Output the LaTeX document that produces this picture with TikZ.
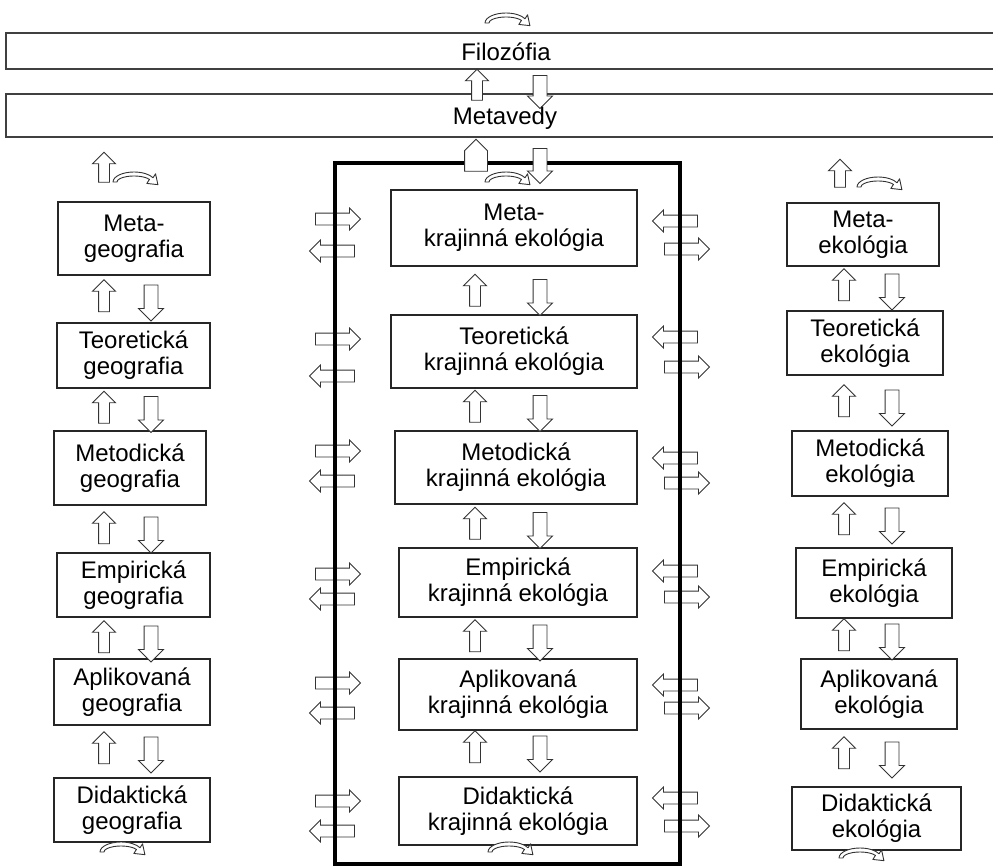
\documentclass[tikz,border=0pt]{standalone}
\usepackage{fontspec}
\setmainfont{Liberation Sans}
\usetikzlibrary{shapes.arrows}
\newcommand\boxfont{\fontsize{24}{26}\selectfont}
\begin{document}
\begin{tikzpicture}[x=1pt,y=-1pt,
  box/.style={draw=black!85, line width=1.3pt, align=center, inner sep=0pt, font=\boxfont},
  bar/.style={draw=black!75, line width=1.3pt, inner sep=0pt},
  lbl/.style={inner sep=0pt, font=\boxfont},
  blk/.style={single arrow, draw=black!80, fill=white, line width=0.9pt, inner xsep=0pt, single arrow tip angle=90},
  ua/.style={blk, rotate=90, inner ysep=5pt, single arrow head extend=6pt, minimum height=#1},
  ua/.default=32pt,
  da/.style={blk, rotate=-90, inner ysep=6.5pt, single arrow head extend=5.5pt, minimum height=#1},
  da/.default=36pt,
  ha/.style={blk, inner ysep=5.5pt, single arrow head extend=5pt, minimum height=45pt},
  cshape/.style={draw=black!80, fill=white, line width=0.9pt, line join=round},
  carc/.pic={\path[cshape] (-17,0) -- (-21,0) arc[start angle=180,end angle=335,x radius=21,y radius=10]
     -- (21.56,-8.2) -- (23.89,2.64) -- (12.86,1.44) -- (15.40,-2.54)
     arc[start angle=335,end angle=180,x radius=17,y radius=6] -- cycle;},
  thickframe/.style={line width=3.5pt, black}
]
\useasboundingbox (0,0) rectangle (993,867);

% top bars
\node[bar, minimum width=994pt, minimum height=36pt] (fil) at (503,51) {};
\node[bar, minimum width=994pt, minimum height=43pt] (metv) at (503,115.5) {};
\pic at (506,23) {carc};
\node[ua=31pt] (fu) at (477,87.5) {};
\node[da=33pt] (fd) at (540,88.5) {};
\node[lbl] (filt) at (506,52) {Filozófia};
\node[lbl] (metvt) at (505,118) {Metavedy};

% horizontal arrows across the frame
\foreach \i/\ya/\yb in {1/219/251, 2/339/376, 3/451/481, 4/574/599, 5/683/713, 6/801/831}{
  \node[ha] (lr\i) at (335,\ya) {};
  \node[ha, rotate=180] (ll\i) at (335,\yb) {};
}
\foreach \i/\ya/\yb in {1/221/249, 2/337/367, 3/458/483, 4/571/597, 5/685/708, 6/798/826}{
  \node[ha, rotate=180] (rl\i) at (678,\ya) {};
  \node[ha] (rr\i) at (684,\yb) {};
}

% frame
\draw[thickframe] (335,163) rectangle (680,864);
\node[blk, rotate=90, inner ysep=11pt, single arrow head extend=0pt, minimum height=32pt] (pent) at (476,161) {};
\node[da=35pt] (fdn) at (540,162.5) {};
\pic at (506,182) {carc};

% left column
\node[ua=30pt] (ltop) at (104,170) {};
\pic at (134,182) {carc};
\node[box, minimum width=152pt, minimum height=73pt] (L1) at (134,238.5) {Meta-\\geografia};
\node[box, minimum width=153pt, minimum height=65pt] (L2) at (133.5,355.5) {Teoretická\\geografia};
\node[box, minimum width=152pt, minimum height=74pt] (L3) at (130,468) {Metodická\\geografia};
\node[box, minimum width=153pt, minimum height=64pt] (L4) at (133.5,585) {Empirická\\geografia};
\node[box, minimum width=156pt, minimum height=66pt] (L5) at (132,692) {Aplikovaná\\geografia};
\node[box, minimum width=156pt, minimum height=64pt] (L6) at (132,810) {Didaktická\\geografia};
\foreach \i/\y in {1/298.5, 2/410, 3/530.5, 4/639.5, 5/750.5}{
  \node[ua] (lu\i) at (104,\y) {};
  \node[da] (ld\i) at (151,\y+1) {};
}
\begin{scope}[shift={(121,852)}, yscale=-1]\pic {carc};\end{scope}

% centre column
\node[box, minimum width=246pt, minimum height=76pt] (C1) at (514,228) {Meta-\\krajinná ekológia};
\node[box, minimum width=246pt, minimum height=73pt] (C2) at (514,351.5) {Teoretická\\krajinná ekológia};
\node[box, minimum width=242pt, minimum height=73pt] (C3) at (516,467.5) {Metodická\\krajinná ekológia};
\node[box, minimum width=238pt, minimum height=69pt] (C4) at (518,582.5) {Empirická\\krajinná ekológia};
\node[box, minimum width=238pt, minimum height=71pt] (C5) at (518,694.5) {Aplikovaná\\krajinná ekológia};
\node[box, minimum width=238pt, minimum height=68pt] (C6) at (518,811) {Didaktická\\krajinná ekológia};
\foreach \i/\y in {1/293, 2/409, 3/526, 4/638.5, 5/749.5}{
  \node[ua] (cu\i) at (475,\y) {};
  \node[da] (cd\i) at (540,\y+1) {};
}
\begin{scope}[shift={(509,852)}, yscale=-1]\pic {carc};\end{scope}

% right column
\node[ua=28pt] (rtop) at (840,176) {};
\pic at (878,187) {carc};
\node[box, minimum width=152pt, minimum height=63pt] (R1) at (863,234.5) {Meta-\\ekológia};
\node[box, minimum width=156pt, minimum height=64pt] (R2) at (865,343) {Teoretická\\ekológia};
\node[box, minimum width=156pt, minimum height=65pt] (R3) at (870,463.5) {Metodická\\ekológia};
\node[box, minimum width=156pt, minimum height=70pt] (R4) at (874,583) {Empirická\\ekológia};
\node[box, minimum width=156pt, minimum height=70pt] (R5) at (879,694) {Aplikovaná\\ekológia};
\node[box, minimum width=169pt, minimum height=63pt] (R6) at (876.5,818.5) {Didaktická\\ekológia};
\foreach \i/\y in {1/287.5, 2/403.5, 3/521.5, 4/637.5, 5/755.5}{
  \node[ua] (ru\i) at (844,\y) {};
  \node[da] (rd\i) at (892,\y+1) {};
}
\begin{scope}[shift={(860,858)}, yscale=-1]\pic {carc};\end{scope}
\end{tikzpicture}
\end{document}
